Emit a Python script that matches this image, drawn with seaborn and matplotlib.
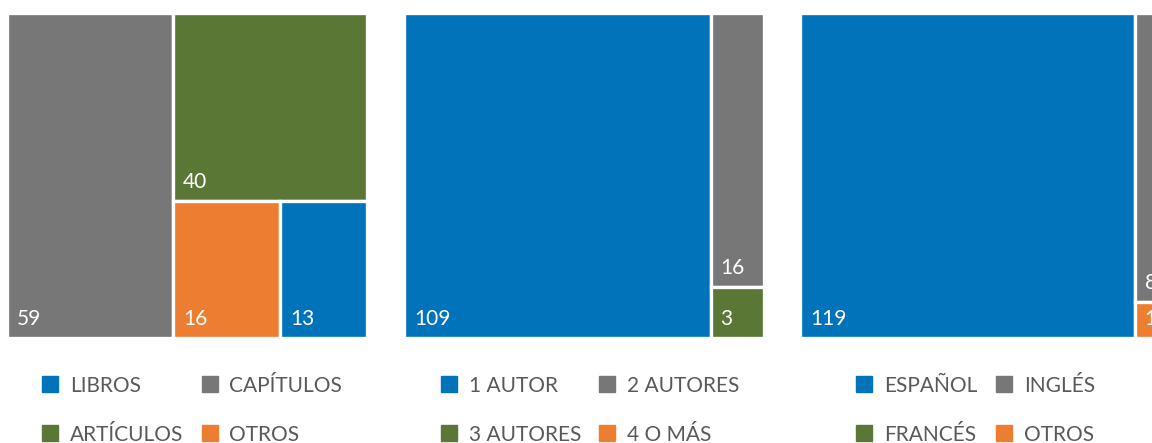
import matplotlib
matplotlib.use("Agg")
import matplotlib.pyplot as plt
from matplotlib.lines import Line2D
import seaborn as sns

# Publication counts by type, authorship and language
tipo_labels = ["LIBROS", "CAPÍTULOS", "ARTÍCULOS", "OTROS"]
tipo_values = [13, 59, 40, 16]

autores_labels = ["1 AUTOR", "2 AUTORES", "3 AUTORES", "4 O MÁS"]
autores_values = [109, 16, 3, 0]

idioma_labels = ["ESPAÑOL", "INGLÉS", "FRANCÉS", "OTROS"]
idioma_values = [119, 8, 0, 1]

palette = ["#0073BB", "#777777", "#5A7736", "#ED7D31"]

sns.set_theme(style="white")
plt.rcParams["font.family"] = ["Lato", "DejaVu Sans"]

W_PX, H_PX = 1152, 443
fig = plt.figure(figsize=(W_PX / 100, H_PX / 100), dpi=100)


def squarify(sizes, x, y, w, h):
    """Squarified treemap layout; sizes already scaled to the area w*h."""
    rects = []
    sizes = list(sizes)
    while sizes:
        short = min(w, h)

        def worst(row):
            s = sum(row)
            return max(max(short ** 2 * v / s ** 2, s ** 2 / (short ** 2 * v)) for v in row)

        row = [sizes[0]]
        i = 1
        while i < len(sizes) and worst(row + [sizes[i]]) <= worst(row):
            row.append(sizes[i])
            i += 1
        s = sum(row)
        if w >= h:
            cw = s / h
            yy = y + h
            for v in row:
                rh = v / cw
                yy -= rh
                rects.append((x, yy, cw, rh))
            x += cw
            w -= cw
        else:
            rh = s / w
            xx = x
            for v in row:
                rw = v / rh
                rects.append((xx, y + h - rh, rw, rh))
                xx += rw
            h -= rh
        sizes = sizes[i:]
    return rects


PANEL_W, PANEL_H = 360, 325
panel_left = [7, 404, 800]
legend_shift = [5, 6, -4.5]
panel_top = 13

panels = [
    (tipo_labels, tipo_values),
    (autores_labels, autores_values),
    (idioma_labels, idioma_values),
]

for left, shift, (labels, values) in zip(panel_left, legend_shift, panels):
    ax = fig.add_axes([left / W_PX, (H_PX - panel_top - PANEL_H) / H_PX,
                       PANEL_W / W_PX, PANEL_H / H_PX])
    ax.set_xlim(0, PANEL_W)
    ax.set_ylim(0, PANEL_H)
    ax.axis("off")

    items = [(v, c) for v, c in zip(values, palette) if v > 0]
    items.sort(key=lambda t: -t[0])
    total = sum(v for v, _ in items)
    scaled = [v / total * PANEL_W * PANEL_H for v, _ in items]
    rects = squarify(scaled, 0, 0, PANEL_W, PANEL_H)

    for (v, c), (rx, ry, rw, rh) in zip(items, rects):
        ax.bar(rx, rh, width=rw, bottom=ry, align="edge", color=c,
               edgecolor="white", linewidth=2.4, clip_on=False)
        ax.text(rx + 10, ry + 13, f"{v}", color="white", fontsize=15,
                ha="left", va="baseline")

    handles = [Line2D([], [], marker="s", linestyle="none", markersize=11,
                      markerfacecolor=c, markeredgecolor=c) for c in palette]
    order = [0, 2, 1, 3]
    ax.legend([handles[k] for k in order], [labels[k] for k in order],
              ncol=2, loc="center",
              bbox_to_anchor=(0.5 + shift / PANEL_W, -0.222),
              frameon=False, fontsize=15, labelcolor="#595959",
              handlelength=0.8, handletextpad=0.55, columnspacing=0.87,
              labelspacing=1.4, borderaxespad=0)

fig.savefig("out.png", dpi=100)
